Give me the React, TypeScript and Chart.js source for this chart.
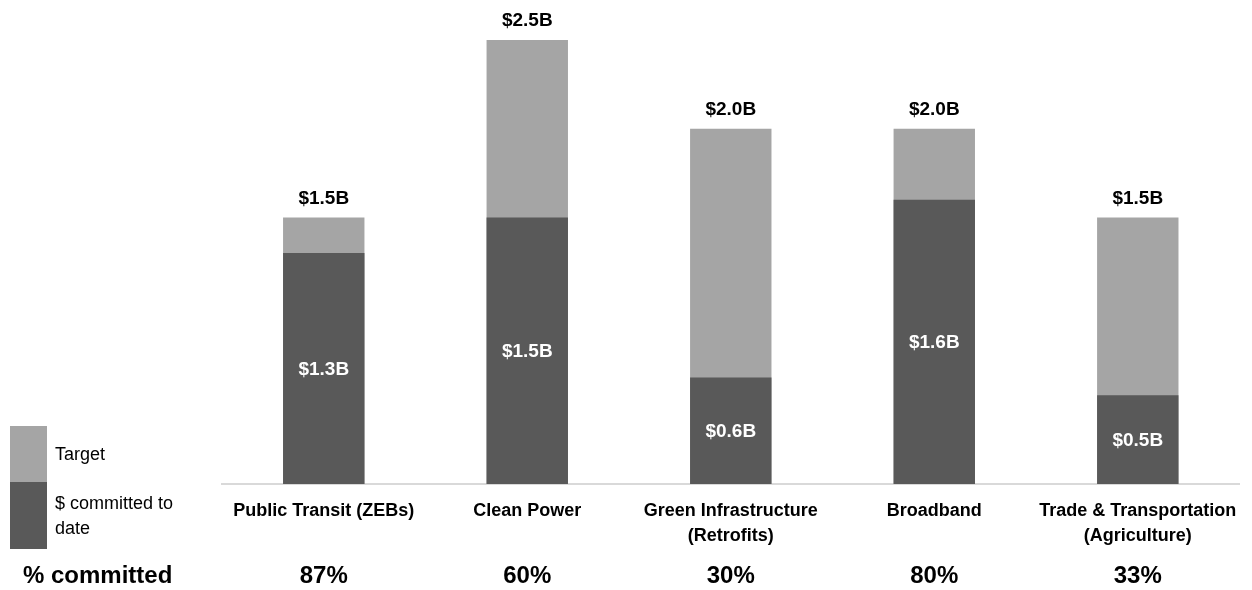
import React, { useEffect, useRef } from "react";
import { Chart, registerables } from "chart.js";

Chart.register(...registerables);

const categories: string[][] = [
  ["Public Transit (ZEBs)"],
  ["Clean Power"],
  ["Green Infrastructure", "(Retrofits)"],
  ["Broadband"],
  ["Trade & Transportation", "(Agriculture)"],
];
const targetValues = [1.5, 2.5, 2.0, 2.0, 1.5];
const committedValues = [1.3, 1.5, 0.6, 1.6, 0.5];
const targetLabels = ["$1.5B", "$2.5B", "$2.0B", "$2.0B", "$1.5B"];
const committedLabels = ["$1.3B", "$1.5B", "$0.6B", "$1.6B", "$0.5B"];
const percentLabels = ["87%", "60%", "30%", "80%", "33%"];
const legendItems = ["Target", "$ committed to date"];

const FONT = "'Liberation Sans', Arial, sans-serif";
const LIGHT = "#a5a5a5";
const DARK = "#595959";

const overlayPlugin = {
  id: "overlay",
  afterDatasetsDraw(chart: any) {
    const ctx = chart.ctx as CanvasRenderingContext2D;
    const x = chart.scales.x;
    const y = chart.scales.y;
    ctx.save();
    ctx.textAlign = "center";
    ctx.textBaseline = "middle";
    for (let i = 0; i < targetValues.length; i++) {
      const cx = x.getPixelForValue(i);
      const top = y.getPixelForValue(targetValues[i]);
      ctx.fillStyle = "#000";
      ctx.font = `bold 19px ${FONT}`;
      ctx.fillText(targetLabels[i], cx, top - 19);
      const cTop = y.getPixelForValue(committedValues[i]);
      const base = y.getPixelForValue(0);
      ctx.fillStyle = "#fff";
      ctx.fillText(committedLabels[i], cx, (cTop + base) / 2 + 1);
      ctx.fillStyle = "#000";
      ctx.font = `bold 24px ${FONT}`;
      ctx.fillText(percentLabels[i], cx, 576);
    }
    // legend
    ctx.fillStyle = LIGHT;
    ctx.fillRect(10, 426, 37, 56);
    ctx.fillStyle = DARK;
    ctx.fillRect(10, 482, 37, 67);
    ctx.fillStyle = "#000";
    ctx.textAlign = "left";
    ctx.font = `18px ${FONT}`;
    ctx.fillText(legendItems[0], 55, 455);
    ctx.fillText("$ committed to", 55, 504);
    ctx.fillText("date", 55, 529);
    ctx.font = `bold 24px ${FONT}`;
    ctx.fillText("% committed", 23, 576);
    ctx.restore();
  },
};

export default function App() {
  const ref = useRef<HTMLCanvasElement>(null);
  useEffect(() => {
    if (!ref.current) return;
    const chart = new Chart(ref.current, {
      type: "bar",
      data: {
        labels: categories,
        datasets: [
          {
            label: "$ committed to date",
            data: committedValues,
            backgroundColor: DARK,
            order: 0,
          },
          {
            label: "Target",
            data: targetValues,
            backgroundColor: LIGHT,
            order: 1,
          },
        ],
      },
      options: {
        responsive: false,
        animation: false,
        datasets: {
          bar: {
            grouped: false,
            categoryPercentage: 1,
            barPercentage: 0.4,
          },
        },
        layout: { padding: { left: 222, right: 7, top: 40, bottom: 26 } },
        plugins: {
          legend: { display: false },
          tooltip: { enabled: false },
        },
        scales: {
          y: { display: false, min: 0, max: 2.5 },
          x: {
            grid: { display: false, drawTicks: false },
            border: { display: true, color: "#d9d9d9", width: 2 },
            ticks: {
              color: "#000",
              padding: 15,
              font: { family: FONT, size: 18, weight: "bold", lineHeight: "25px" as any },
            },
          },
        },
      },
      plugins: [overlayPlugin],
    });
    return () => chart.destroy();
  }, []);
  return (
    <div style={{ position: "fixed", left: 0, top: 0, width: 1252, height: 590, background: "#fff" }}>
      <canvas ref={ref} width={1252} height={590} />
    </div>
  );
}
